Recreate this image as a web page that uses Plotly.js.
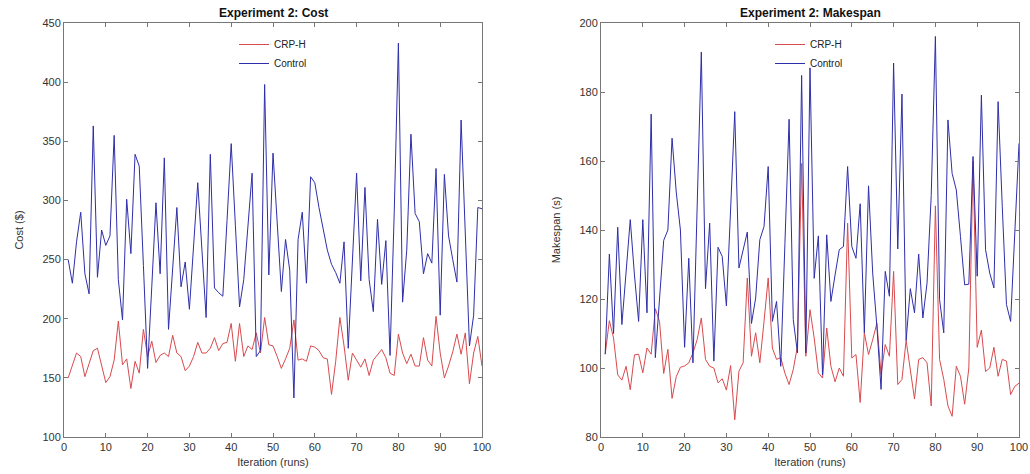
<!DOCTYPE html>
<html>
<head>
<meta charset="utf-8">
<script src="https://cdn.plot.ly/plotly-3.0.1.min.js"></script>
<style>html,body{margin:0;padding:0;background:#fff;}#chart{width:1030px;height:474px;}</style>
</head>
<body>
<div id="chart"></div>
<script>
// Iterations 1..100
const iterations = Array.from({length: 100}, (_, k) => k + 1);

// Experiment 2: Cost ($)
const costCRPH = [150,160,171,168,151,162,173,175,160,146,
  151,165,198,161,166,141,164,154,191,168,
  181,163,169,171,168,186,171,168,156,160,
  168,180,171,171,175,184,173,179,180,196,
  164,196,168,177,174,188,171,201,178,177,
  168,158,166,175,199,165,166,164,177,176,
  173,167,166,136,164,201,177,148,171,165,
  159,166,152,165,170,174,167,154,152,187,
  171,162,170,160,160,184,165,160,202,171,
  150,160,172,187,170,188,145,171,185,160];
const costControl = [250,230,265,290,238,221,363,235,275,262,
  270,355,233,199,301,255,339,329,245,158,
  227,298,238,336,191,243,294,227,248,208,
  262,315,258,201,339,226,222,219,283,348,
  279,210,233,278,323,168,173,398,237,340,
  282,223,267,241,133,267,290,230,320,315,
  294,275,258,246,239,230,265,175,250,323,
  232,311,233,206,284,229,266,169,290,433,
  214,258,356,289,282,238,255,247,327,203,
  322,270,250,231,368,272,177,203,294,293];

// Experiment 2: Makespan (s)
const makespanCRPH = [104,113.7,108.7,98,96.5,100.5,93.7,103.8,104,98.6,
  105.8,104,117.2,113.5,98.4,105.4,91.2,97.5,100.2,100.6,
  101.5,104.4,108.2,114.5,102.5,100.5,100,95.7,96.9,93.6,
  100.7,85,99.1,101.5,126.1,103.4,110.2,101.5,113.5,126.1,
  105.8,102.5,103,98.5,95.2,99.6,106.3,159.3,103.4,116.9,
  108.7,98.6,97.1,111.6,100.5,96,100,97.6,142,102.9,
  103.9,90,110.2,103.9,108.2,113,98.1,106.8,103.4,128,
  95.2,96.7,108,99,91,102.5,103,101.5,89,147,
  102.5,96.7,89,86,100.5,97.6,89.5,100,160,106,
  111,99,100,106,97.6,102.5,102,92.3,94.7,95.6];
const makespanControl = [104,133,110,140.8,112.6,128,143,127,113.5,143,
  116,173.6,103,120,137,140,166.6,151,140,106,
  131.8,101.5,147,191.6,123,142,102,135,132.3,118,
  145.8,174.3,129,134.3,139.4,112.9,120.3,137.2,141,158.4,
  113.5,119.3,100.5,136,172.1,114,104.4,184.8,104.4,187,
  126,138.3,98,138.6,119.3,127,134.3,135.2,158.4,135.2,
  131.8,147.6,110.2,152.8,127.5,112.1,93.8,128,120.8,188.4,
  134.5,179.4,108,123,116,133,114.5,124.6,150,196.1,
  119.8,110.2,171.9,156.4,151.6,138.1,124.1,124.3,161.3,126.6,
  179.1,134.3,127.5,123.2,177.2,146.8,118.4,113.5,139,165.1];

const seriesNames = ['CRP-H', 'Control'];
const titles = ['Experiment 2: Cost', 'Experiment 2: Makespan'];
const yTitles = ['Cost ($)', 'Makespan (s)'];
const xTitle = 'Iteration (runs)';

const RED = '#d94a4e';
const BLUE = '#2e2eaa';
const FONT = 'Liberation Sans, Arial, sans-serif';
const W = 1030, H = 474;

const traces = [
  {x: iterations, y: costCRPH, name: seriesNames[0], type: 'scatter', mode: 'lines',
   line: {color: RED, width: 1}, xaxis: 'x', yaxis: 'y', legend: 'legend'},
  {x: iterations, y: costControl, name: seriesNames[1], type: 'scatter', mode: 'lines',
   line: {color: BLUE, width: 1}, xaxis: 'x', yaxis: 'y', legend: 'legend'},
  {x: iterations, y: makespanCRPH, name: seriesNames[0], type: 'scatter', mode: 'lines',
   line: {color: RED, width: 1}, xaxis: 'x2', yaxis: 'y2', legend: 'legend2'},
  {x: iterations, y: makespanControl, name: seriesNames[1], type: 'scatter', mode: 'lines',
   line: {color: BLUE, width: 1}, xaxis: 'x2', yaxis: 'y2', legend: 'legend2'}
];

const yDom = [1 - 437 / H, 1 - 23 / H];
const xDom1 = [64 / W, 482 / W];
const xDom2 = [601 / W, 1019 / W];

function xAxis(dom, anchor) {
  return {
    domain: dom, anchor: anchor, range: [0, 100], tick0: 0, dtick: 10,
    ticks: 'inside', ticklen: 4, tickcolor: '#777', tickwidth: 1,
    showline: true, linecolor: '#777', linewidth: 1, mirror: 'ticks',
    showgrid: false, zeroline: false,
    tickfont: {family: FONT, size: 11, color: '#333'},
    title: {text: xTitle, font: {family: FONT, size: 11, color: '#333'}, standoff: 6}
  };
}
function yAxis(dom, anchor, range, dtick, title) {
  return {
    domain: dom, anchor: anchor, range: range, dtick: dtick,
    ticks: 'inside', ticklen: 4, tickcolor: '#777', tickwidth: 1,
    showline: true, linecolor: '#777', linewidth: 1, mirror: 'ticks',
    showgrid: false, zeroline: false,
    tickfont: {family: FONT, size: 11, color: '#333'},
    title: {text: title, font: {family: FONT, size: 11, color: '#333'}, standoff: 16}
  };
}

const legendBase = {
  orientation: 'v', xanchor: 'left', yanchor: 'top', y: 1 - 30 / H,
  bgcolor: 'rgba(0,0,0,0)', borderwidth: 0,
  font: {family: FONT, size: 10, color: '#222'}, tracegroupgap: 0
};

const layout = {
  width: W, height: H,
  margin: {l: 0, r: 0, t: 0, b: 0},
  paper_bgcolor: '#fff', plot_bgcolor: '#fff',
  showlegend: true,
  xaxis: xAxis(xDom1, 'y'),
  yaxis: yAxis(yDom, 'x', [100, 450], 50, yTitles[0]),
  xaxis2: xAxis(xDom2, 'y2'),
  yaxis2: yAxis(yDom, 'x2', [80, 200], 20, yTitles[1]),
  legend: Object.assign({}, legendBase, {x: 234 / W}),
  legend2: Object.assign({}, legendBase, {x: 770 / W}),
  annotations: [
    {text: '<b>' + titles[0] + '</b>', xref: 'paper', yref: 'paper',
     x: (xDom1[0] + xDom1[1]) / 2, y: 1 - 13 / H, xanchor: 'center', yanchor: 'middle',
     showarrow: false, font: {family: FONT, size: 12, color: '#111'}},
    {text: '<b>' + titles[1] + '</b>', xref: 'paper', yref: 'paper',
     x: (xDom2[0] + xDom2[1]) / 2, y: 1 - 13 / H, xanchor: 'center', yanchor: 'middle',
     showarrow: false, font: {family: FONT, size: 12, color: '#111'}}
  ]
};

Plotly.newPlot('chart', traces, layout, {staticPlot: true, displayModeBar: false});
</script>
</body>
</html>
